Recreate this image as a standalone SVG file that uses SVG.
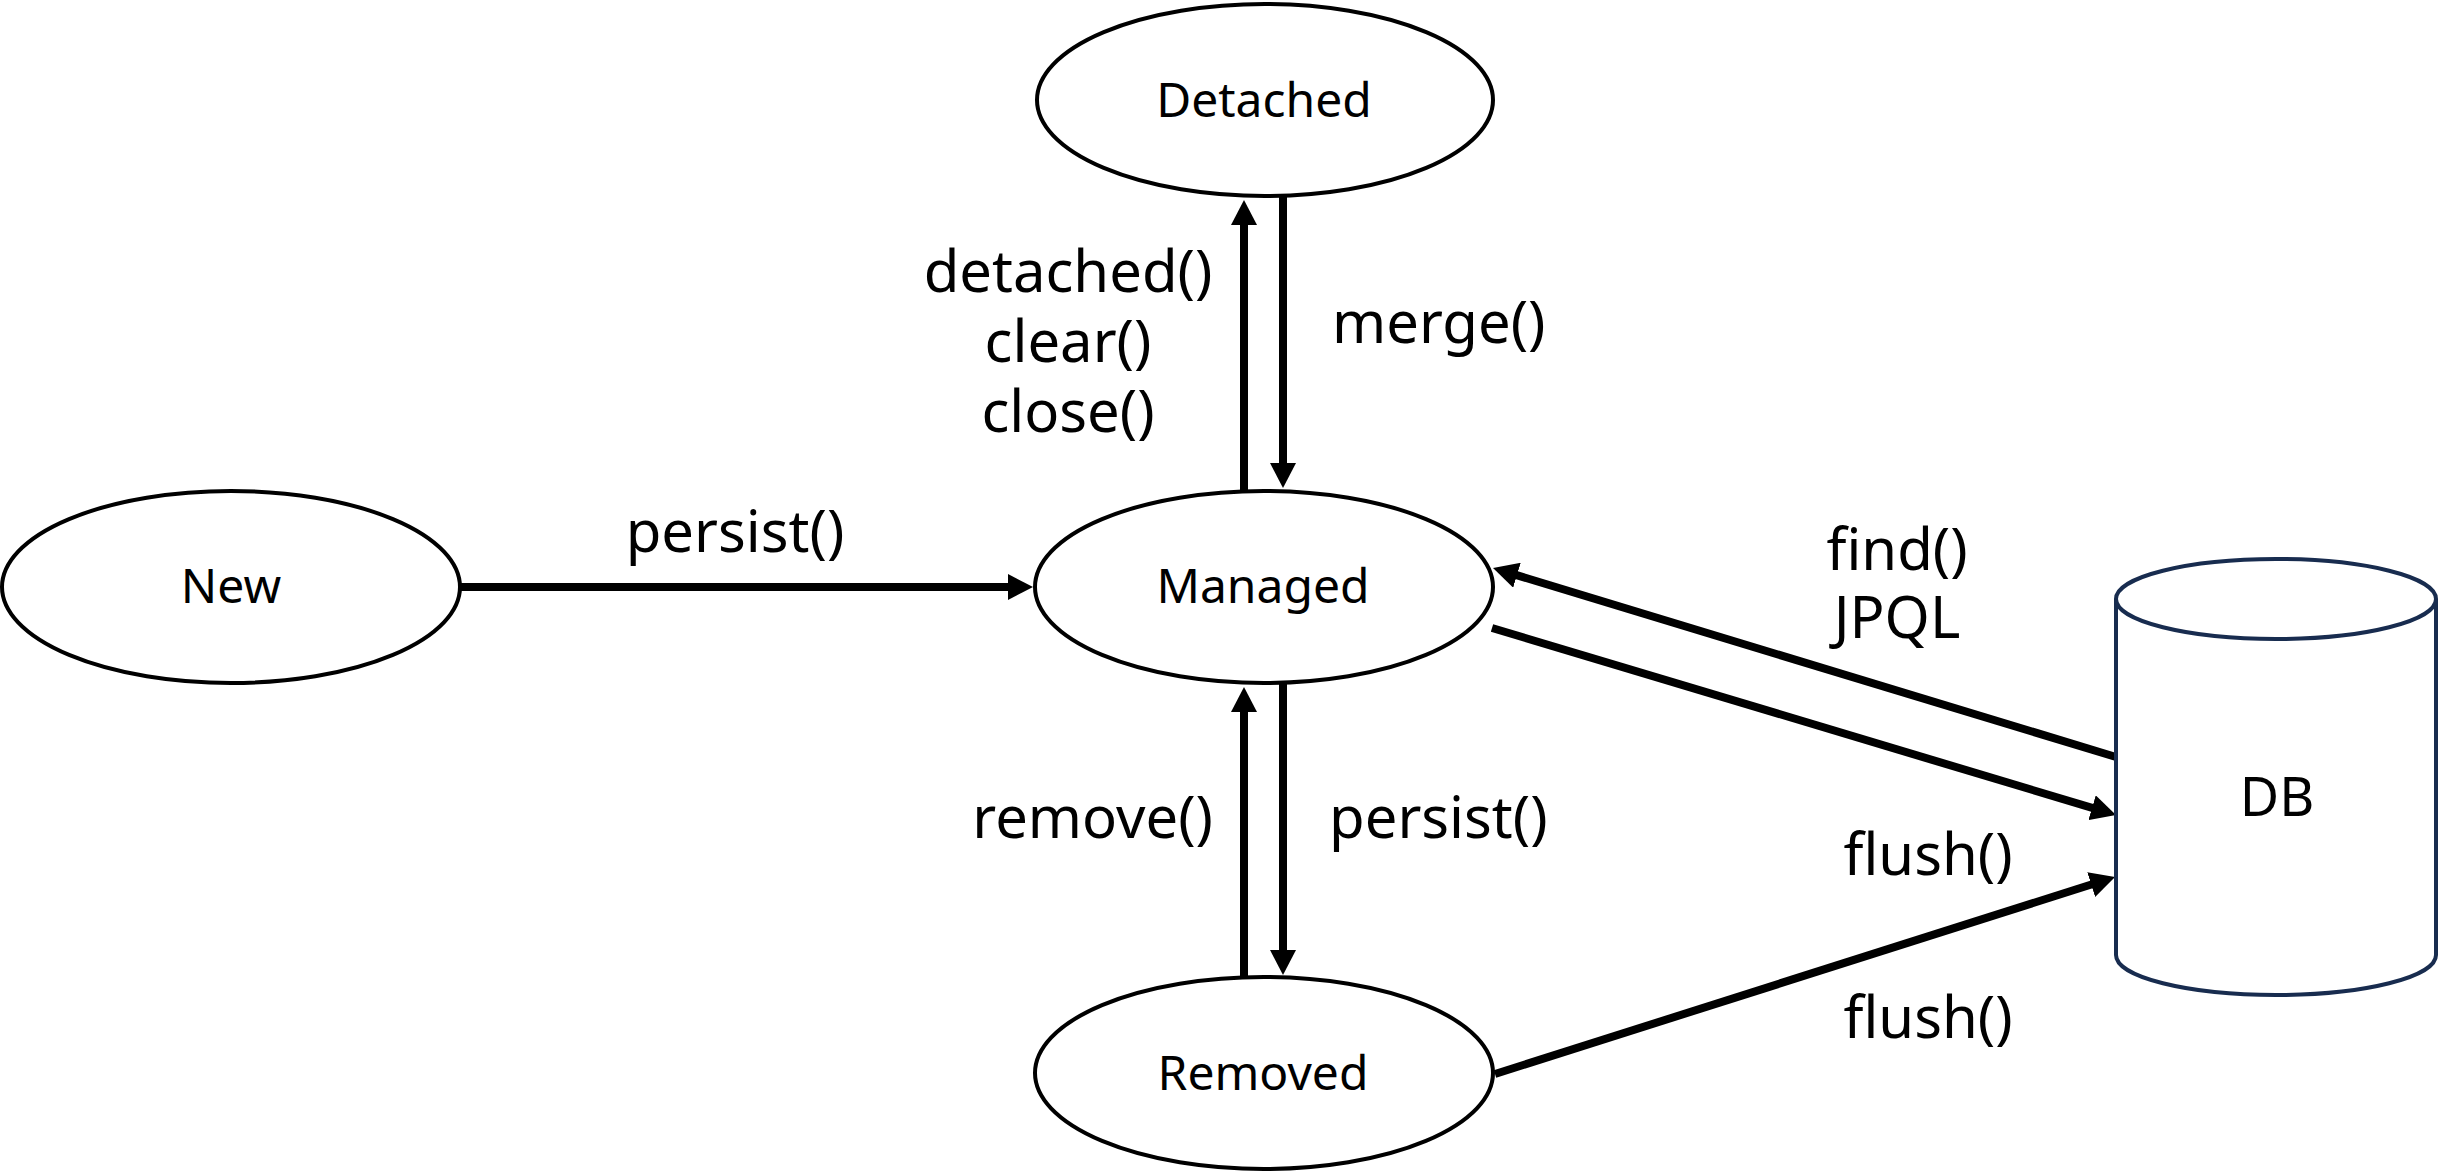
<svg xmlns="http://www.w3.org/2000/svg" width="2440" height="1174" viewBox="0 0 2440 1174">
<style>
.node{fill:#fff;stroke:#000;stroke-width:4}
.db{fill:#fff;stroke:#182c4f;stroke-width:4}
.nt{font-family:"Noto Sans","DejaVu Sans",sans-serif;font-size:48px;fill:#000;text-anchor:middle}
.lb{font-family:"Noto Sans","DejaVu Sans",sans-serif;font-size:58px;fill:#000}
.edge{stroke:#000;stroke-width:8;fill:none;marker-end:url(#ah)}
</style>
<defs>
<marker id="ah" markerUnits="userSpaceOnUse" markerWidth="26" markerHeight="26" refX="15" refY="13" orient="auto" viewBox="0 0 26 26">
<path d="M0,0 L25,13 L0,26 z" fill="#000"/>
</marker>
</defs>
<rect width="2440" height="1174" fill="#fff"/>
<g id="connectors">
<line class="edge" x1="461" y1="587" x2="1023" y2="587"/>
<line class="edge" x1="1244" y1="490" x2="1244" y2="210"/>
<line class="edge" x1="1283" y1="197" x2="1283" y2="478"/>
<line class="edge" x1="1244" y1="977" x2="1244" y2="697"/>
<line class="edge" x1="1283" y1="683" x2="1283" y2="965"/>
<line class="edge" x1="2116" y1="757" x2="1502.6" y2="570.9"/>
<line class="edge" x1="1492" y1="628" x2="2106.4" y2="812.1"/>
<line class="edge" x1="1495" y1="1074" x2="2105.5" y2="880"/>
<text class="lb" x="735" y="552" text-anchor="middle">persist()</text>
<text class="lb" x="1068" y="292" text-anchor="middle">detached()</text>
<text class="lb" x="1068" y="362" text-anchor="middle">clear()</text>
<text class="lb" x="1068" y="432" text-anchor="middle">close()</text>
<text class="lb" x="1332" y="343">merge()</text>
<text class="lb" x="1213" y="838" text-anchor="end">remove()</text>
<text class="lb" x="1329" y="838">persist()</text>
<text class="lb" x="1897" y="570" text-anchor="middle">find()</text>
<text class="lb" x="1897" y="638" text-anchor="middle">JPQL</text>
<text class="lb" x="1928" y="875" text-anchor="middle">flush()</text>
<text class="lb" x="1928" y="1038" text-anchor="middle">flush()</text>
</g>
<g id="node-new">
<ellipse class="node" cx="231" cy="587" rx="229" ry="96"/>
<text class="nt" x="231" y="603">New</text>
</g>
<g id="node-detached">
<ellipse class="node" cx="1265" cy="100" rx="228" ry="96"/>
<text class="nt" x="1264" y="117">Detached</text>
</g>
<g id="node-managed">
<ellipse class="node" cx="1264" cy="587" rx="229" ry="96"/>
<text class="nt" x="1263" y="603">Managed</text>
</g>
<g id="node-removed">
<ellipse class="node" cx="1264" cy="1073" rx="229" ry="96"/>
<text class="nt" x="1263" y="1090">Removed</text>
</g>
<g id="node-db">
<path class="db" d="M2116,599 L2116,955 A160,40 0 0 0 2436,955 L2436,599"/>
<ellipse class="db" cx="2276" cy="599" rx="160" ry="40"/>
<text class="nt" x="2277" y="816" style="font-size:54px">DB</text>
</g>
</svg>
